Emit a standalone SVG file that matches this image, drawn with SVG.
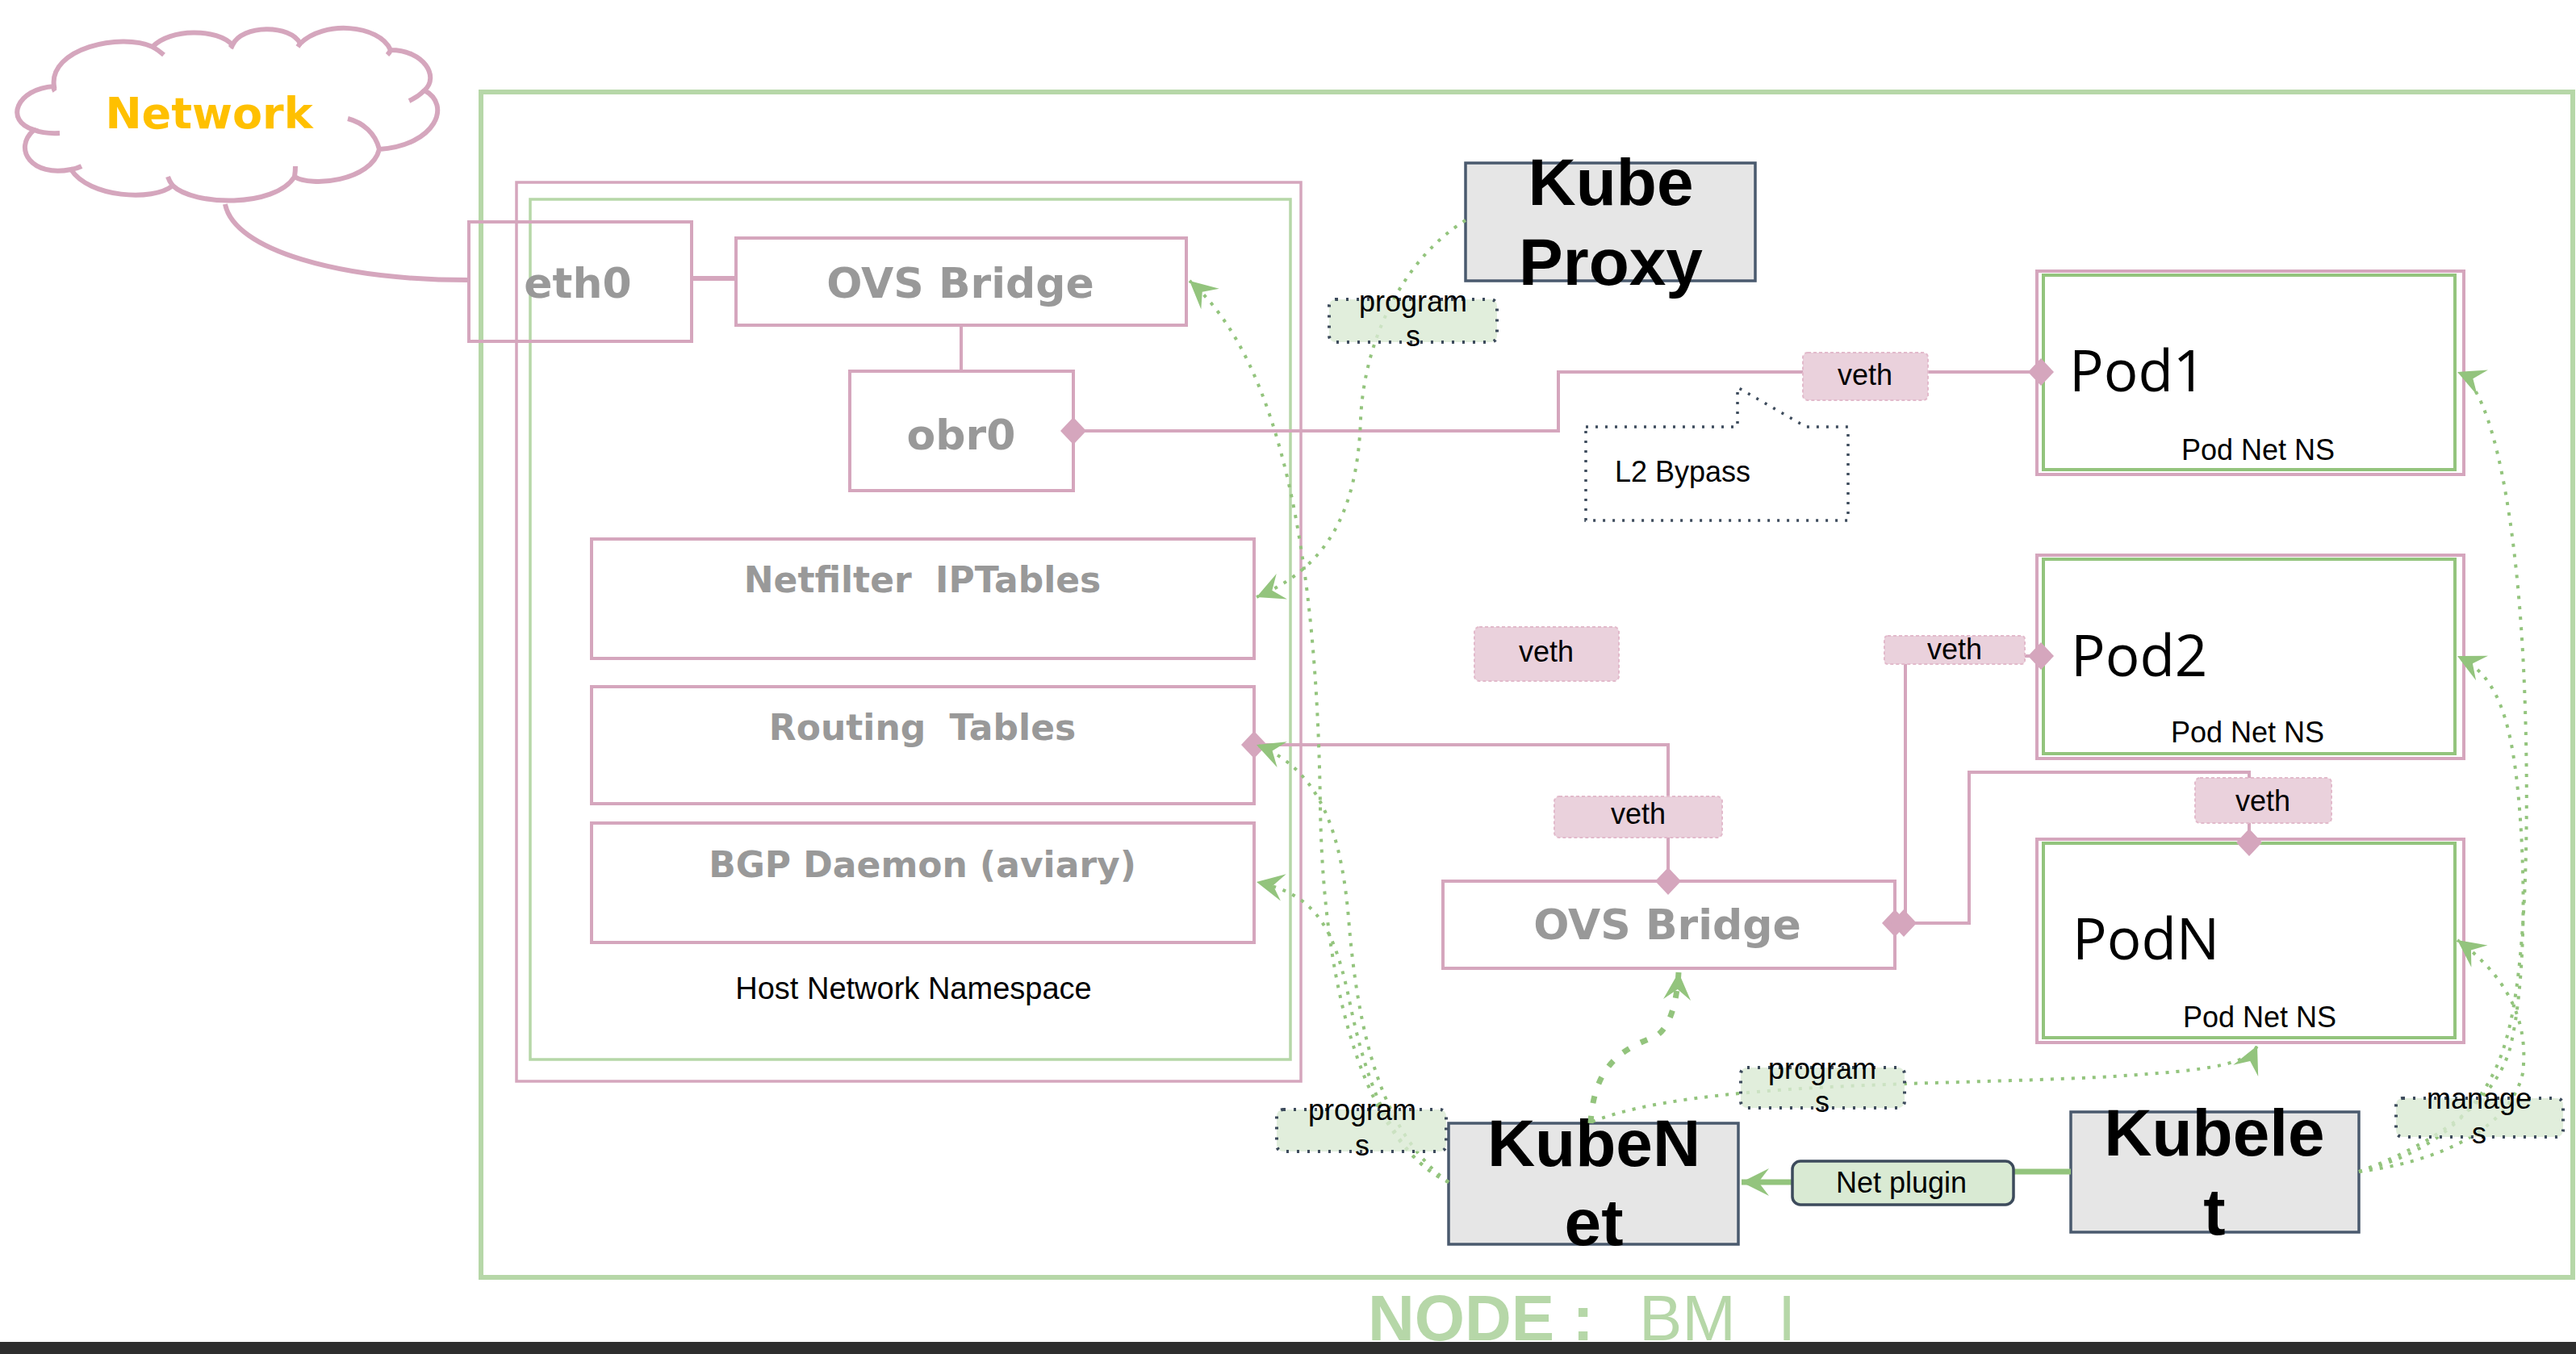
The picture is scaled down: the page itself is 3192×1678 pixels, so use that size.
<svg xmlns="http://www.w3.org/2000/svg" width="3192" height="1678" viewBox="0 0 3192 1678">
<style>
.pk{fill:none;stroke:#D5A6BD;stroke-width:4}
.bx{fill:#fff;stroke:#D5A6BD;stroke-width:4}
.gt{font-family:"DejaVu Sans",Verdana,sans-serif;font-weight:bold;fill:#999999;text-anchor:middle}
.lb{font-family:"Liberation Sans",Arial,sans-serif;font-size:36px;fill:#000;text-anchor:middle}
.ns{font-family:"Liberation Sans",Arial,sans-serif;font-size:36px;fill:#000;text-anchor:middle}
.pt{font-family:"Open Sans","Noto Sans",sans-serif;font-size:71px;fill:#000}
.big{font-family:"Liberation Sans",Arial,sans-serif;font-weight:bold;font-size:82px;fill:#000;text-anchor:middle}
.kb{fill:#E6E6E6;stroke:#4A5A6E;stroke-width:3.5}
.dot{fill:none;stroke:#93C47D;stroke-width:4;stroke-dasharray:4 9}
.vr{fill:#EAD1DC;stroke:#E2BACB;stroke-width:2;stroke-dasharray:4 3}
.pr{fill:#D9EAD3;fill-opacity:.8;stroke:#3D4B5C;stroke-width:4;stroke-dasharray:3 10}
.po{fill:#fff;stroke:#D5A6BD;stroke-width:4}
.pi{fill:none;stroke:#93C47D;stroke-width:4}
</style>
<defs>
<path id="dia" d="M-16,0 L0,-17 L16,0 L0,17 Z" fill="#D5A6BD"/>
<marker id="arr" markerUnits="userSpaceOnUse" markerWidth="40" markerHeight="40" viewBox="-36 -20 40 40" refX="0" refY="0" orient="auto">
<path d="M0,0 L-34,-17 L-21,0 L-34,17 Z" fill="#93C47D"/>
</marker>
</defs>
<rect x="0" y="0" width="3192" height="1678" fill="#fff"/>

<g id="node-bm">
<rect x="596" y="114" width="2592" height="1469" fill="none" stroke="#B6D7A8" stroke-width="6"/>
</g>

<g id="network-cloud">
<path d="M67,107 C20,110 5,150 42,161 C15,185 40,220 88,210 C110,245 190,250 214,230 C240,255 340,258 365,219 C385,232 460,225 470,185 C540,180 560,130 526,112 C545,95 525,62 484,62 C470,30 400,25 372,54 C360,30 300,30 288,56 C270,35 210,35 189,58 C150,40 60,60 67,107 Z" fill="#fff" stroke="#D5A6BD" stroke-width="6"/>
<path d="M42,161 Q55,166 74,165 M88,210 Q95,209 101,206 M214,230 Q210,225 208,219 M365,219 Q366,212 366,206 M470,185 C465,165 450,152 431,147 M526,112 Q518,120 507,125 M484,62 Q483,65 480,68 M372,54 Q371,55 369,58 M288,56 Q287,57 285,59 M189,58 Q196,62 203,68 M67,107 Q66,110 68,113" fill="none" stroke="#D5A6BD" stroke-width="6"/>
<text x="259" y="159" font-family="DejaVu Sans,Verdana,sans-serif" font-weight="bold" font-size="54" fill="#FFC000" text-anchor="middle">Network</text>
</g>

<g id="host-ns">
<rect x="640" y="226" width="972" height="1114" fill="#fff" stroke="#D5A6BD" stroke-width="3.5"/>
<rect x="657" y="247" width="942" height="1066" fill="none" stroke="#B6D7A8" stroke-width="3.5"/>
<text class="ns" x="1132" y="1238" style="font-size:38px">Host Network Namespace</text>
</g>

<g id="eth0">
<rect x="581" y="275" width="276" height="148" fill="none" stroke="#D5A6BD" stroke-width="4"/>
<text class="gt" x="716" y="369" font-size="52">eth0</text>
</g>

<g id="ovs-bridge-host">
<rect class="bx" x="912" y="295" width="558" height="108"/>
<text class="gt" x="1190" y="369" font-size="52">OVS Bridge</text>
</g>

<g id="obr0">
<rect class="bx" x="1053" y="460" width="277" height="148"/>
<text class="gt" x="1191" y="557" font-size="52">obr0</text>
</g>

<g id="netfilter">
<rect class="bx" x="733" y="668" width="821" height="148"/>
<text class="gt" x="1143" y="734" font-size="44" word-spacing="14">Netfilter IPTables</text>
</g>

<g id="routing-tables">
<rect class="bx" x="733" y="851" width="821" height="145"/>
<text class="gt" x="1143" y="917" font-size="44" word-spacing="14">Routing Tables</text>
</g>

<g id="bgp-daemon">
<rect class="bx" x="733" y="1020" width="821" height="148"/>
<text class="gt" x="1143" y="1087" font-size="44">BGP Daemon (aviary)</text>
</g>

<g id="kube-proxy">
<rect class="kb" x="1816" y="202" width="359" height="146"/>
<text class="big"><tspan x="1996" y="254">Kube</tspan><tspan x="1996" y="353">Proxy</tspan></text>
</g>

<g id="pod1">
<rect class="po" x="2524" y="336" width="529" height="252"/>
<rect class="pi" x="2532" y="341" width="510" height="241"/>
<text class="pt" x="2564" y="485">Pod1</text>
<text class="ns" x="2798" y="570">Pod Net NS</text>
</g>

<g id="pod2">
<rect class="po" x="2524" y="688" width="529" height="252"/>
<rect class="pi" x="2532" y="693" width="510" height="241"/>
<text class="pt" x="2566" y="838">Pod2</text>
<text class="ns" x="2785" y="920">Pod Net NS</text>
</g>

<g id="podN">
<rect class="po" x="2524" y="1040" width="529" height="252"/>
<rect class="pi" x="2532" y="1045" width="510" height="241"/>
<text class="pt" x="2568" y="1189">PodN</text>
<text class="ns" x="2800" y="1273">Pod Net NS</text>
</g>

<g id="ovs-bridge-pods">
<rect class="bx" x="1788" y="1092" width="560" height="108"/>
<text class="gt" x="2066" y="1164" font-size="52">OVS Bridge</text>
</g>

<g id="kubenet">
<rect class="kb" x="1795" y="1392" width="359" height="150"/>
<text class="big"><tspan x="1975" y="1445">KubeN</tspan><tspan x="1975" y="1543">et</tspan></text>
</g>

<g id="kubelet">
<rect class="kb" x="2566" y="1378" width="357" height="149"/>
<text class="big"><tspan x="2744" y="1432">Kubele</tspan><tspan x="2744" y="1530">t</tspan></text>
</g>

<g id="connectors">
<path d="M279,253 C290,310 420,347 581,347" fill="none" stroke="#D5A6BD" stroke-width="6"/>
<path d="M857,345 H912" fill="none" stroke="#D5A6BD" stroke-width="6"/>
<path class="pk" d="M1191,403 V460"/>
<path class="pk" d="M1330,534 H1931 V461 H2524"/>
<path class="pk" d="M1554,923 H2067 V1092"/>
<path class="pk" d="M2348,1144 H2361 V813 H2524"/>
<path class="pk" d="M2358,1144 H2440 V957 H2787 V1044"/>
<use href="#dia" x="1330" y="534"/>
<use href="#dia" x="2529" y="461"/>
<use href="#dia" x="1554" y="923"/>
<use href="#dia" x="2067" y="1092"/>
<use href="#dia" x="2348" y="1144"/>
<use href="#dia" x="2359" y="1144"/>
<use href="#dia" x="2529" y="813"/>
<use href="#dia" x="2787" y="1044"/>
<path d="M2566,1452 H2360 V1465 H2158" fill="none" stroke="#93C47D" stroke-width="7" marker-end="url(#arr)"/>
<path class="dot" d="M1816,273 C1740,320 1690,420 1686,520 C1682,640 1640,705 1557,740" marker-end="url(#arr)"/>
<path class="dot" d="M1795,1465 C1700,1420 1640,1250 1636,1000 C1632,700 1590,450 1474,348" marker-end="url(#arr)"/>
<path class="dot" d="M1795,1465 C1705,1400 1682,1260 1672,1150 C1664,1040 1640,955 1557,923" marker-end="url(#arr)"/>
<path class="dot" d="M1795,1465 C1720,1430 1690,1330 1670,1230 C1652,1150 1630,1108 1557,1093" marker-end="url(#arr)"/>
<path d="M1971,1392 C1975,1320 2010,1300 2050,1285 C2070,1275 2078,1240 2080,1205" fill="none" stroke="#93C47D" stroke-width="7" stroke-dasharray="9 16" marker-end="url(#arr)"/>
<path class="dot" d="M1973,1390 C2100,1340 2400,1345 2600,1335 C2720,1328 2785,1322 2797,1296" marker-end="url(#arr)"/>
<path class="dot" d="M2923,1452 C3010,1430 3080,1380 3105,1290 C3132,1200 3134,1000 3128,850 C3120,650 3090,480 3045,461" marker-end="url(#arr)"/>
<path class="dot" d="M2923,1452 C3010,1420 3090,1370 3110,1300 C3130,1220 3130,1080 3120,980 C3110,880 3090,835 3045,813" marker-end="url(#arr)"/>
<path class="dot" d="M2923,1452 C3020,1440 3110,1400 3126,1330 C3132,1280 3120,1220 3045,1165" marker-end="url(#arr)"/>
</g>

<g id="veth-labels">
<rect class="vr" x="2234" y="437" width="155" height="59" rx="6"/>
<text class="lb" x="2311" y="477">veth</text>
<rect class="vr" x="1827" y="777" width="179" height="67" rx="6"/>
<text class="lb" x="1916" y="820">veth</text>
<rect class="vr" x="1926" y="987" width="208" height="51" rx="6"/>
<text class="lb" x="2030" y="1021">veth</text>
<rect class="vr" x="2335" y="788" width="174" height="35" rx="4"/>
<text class="lb" x="2422" y="817">veth</text>
<rect class="vr" x="2720" y="964" width="169" height="56" rx="6"/>
<text class="lb" x="2804" y="1005">veth</text>
</g>

<g id="program-labels">
<rect class="pr" x="1647" y="371" width="208" height="53" rx="8"/>
<text class="lb"><tspan x="1751" y="386">program</tspan><tspan x="1751" y="429">s</tspan></text>
<rect class="pr" x="1582" y="1375" width="210" height="52" rx="8"/>
<text class="lb"><tspan x="1688" y="1388">program</tspan><tspan x="1688" y="1432">s</tspan></text>
<rect class="pr" x="2157" y="1323" width="203" height="50" rx="8"/>
<text class="lb"><tspan x="2258" y="1337">program</tspan><tspan x="2258" y="1378">s</tspan></text>
<rect class="pr" x="2969" y="1361" width="207" height="48" rx="8"/>
<text class="lb"><tspan x="3072" y="1374">manage</tspan><tspan x="3072" y="1417">s</tspan></text>
</g>

<g id="net-plugin">
<rect x="2221" y="1439" width="274" height="54" rx="10" fill="#D9EAD3" stroke="#3D4B5C" stroke-width="3.5"/>
<text class="lb" x="2356" y="1478">Net plugin</text>
</g>

<g id="l2-bypass">
<path d="M1965,529 H2153 V480 L2238,529 H2290 V645 H1965 Z" fill="none" stroke="#3D4B5C" stroke-width="3.5" stroke-dasharray="3 9"/>
<text class="lb" x="2085" y="597">L2 Bypass</text>
</g>

<g id="node-title">
<text font-family="Liberation Sans,Arial,sans-serif" font-size="80" fill="#B6D7A8"><tspan x="1695" y="1661" font-weight="bold">NODE :</tspan><tspan x="2031" y="1661">BM</tspan><tspan x="2203" y="1661">I</tspan></text>
</g>
<rect x="0" y="1663" width="3192" height="15" fill="#2E2E2E"/>
</svg>
